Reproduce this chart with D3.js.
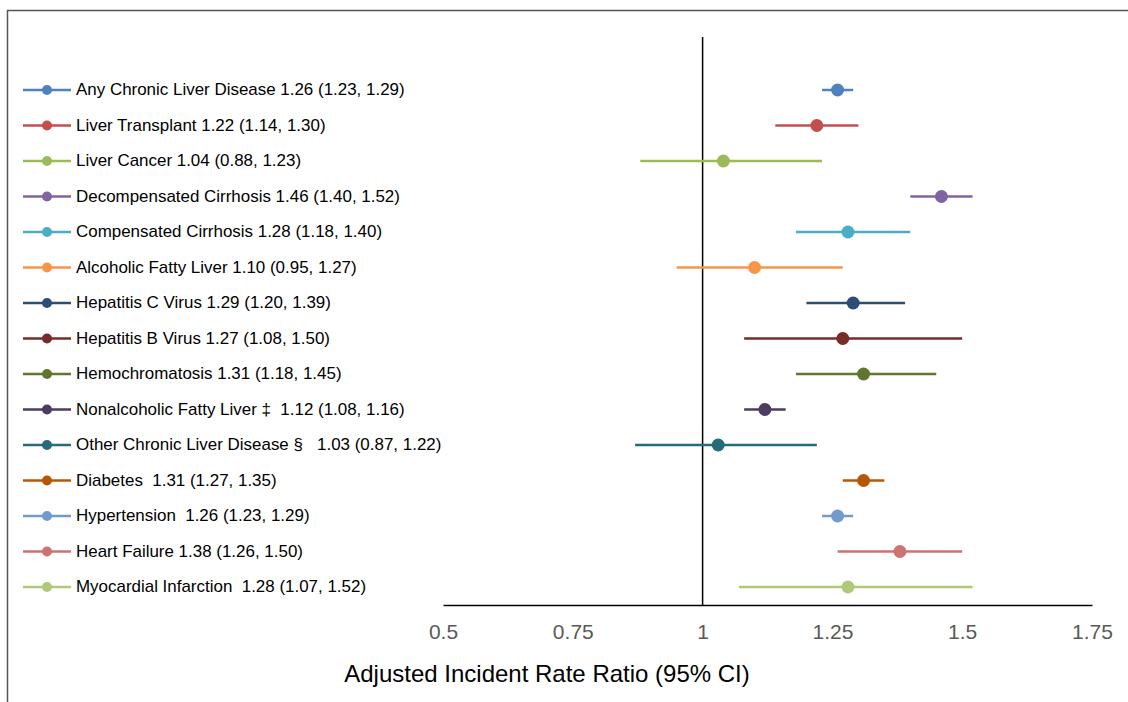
<!DOCTYPE html>
<html>
<head>
<meta charset="utf-8">
<script src="https://cdn.jsdelivr.net/npm/d3@7"></script>
<style>
  body { margin: 0; background: #fff; }
  svg { font-family: "Liberation Sans", Arial, sans-serif; }
</style>
</head>
<body>
<div id="chart"></div>
<script>
// chart data
var labels = [
  "Any Chronic Liver Disease 1.26 (1.23, 1.29)",
  "Liver Transplant 1.22 (1.14, 1.30)",
  "Liver Cancer 1.04 (0.88, 1.23)",
  "Decompensated Cirrhosis 1.46 (1.40, 1.52)",
  "Compensated Cirrhosis 1.28 (1.18, 1.40)",
  "Alcoholic Fatty Liver 1.10 (0.95, 1.27)",
  "Hepatitis C Virus 1.29 (1.20, 1.39)",
  "Hepatitis B Virus 1.27 (1.08, 1.50)",
  "Hemochromatosis 1.31 (1.18, 1.45)",
  "Nonalcoholic Fatty Liver \u2021  1.12 (1.08, 1.16)",
  "Other Chronic Liver Disease \u00a7   1.03 (0.87, 1.22)",
  "Diabetes  1.31 (1.27, 1.35)",
  "Hypertension  1.26 (1.23, 1.29)",
  "Heart Failure 1.38 (1.26, 1.50)",
  "Myocardial Infarction  1.28 (1.07, 1.52)"
];
var estimates = [1.26, 1.22, 1.04, 1.46, 1.28, 1.10, 1.29, 1.27, 1.31, 1.12, 1.03, 1.31, 1.26, 1.38, 1.28];
var lower     = [1.23, 1.14, 0.88, 1.40, 1.18, 0.95, 1.20, 1.08, 1.18, 1.08, 0.87, 1.27, 1.23, 1.26, 1.07];
var upper     = [1.29, 1.30, 1.23, 1.52, 1.40, 1.27, 1.39, 1.50, 1.45, 1.16, 1.22, 1.35, 1.29, 1.50, 1.52];
var colors = ["#4F81BD", "#C0504D", "#9BBB59", "#8064A2", "#4BACC6", "#F79646", "#2C4D75",
              "#772C2A", "#5F7530", "#4D3B62", "#276A7C", "#B65708", "#729ACA", "#CD7371", "#AFC97A"];
var tickValues = [0.5, 0.75, 1, 1.25, 1.5, 1.75];
var tickLabels = ["0.5", "0.75", "1", "1.25", "1.5", "1.75"];

var width = 1128, height = 702;

var svg = d3.select("#chart").append("svg")
    .attr("width", width)
    .attr("height", height);

// outer frame
svg.append("rect")
    .attr("x", 7.5).attr("y", 10.5)
    .attr("width", width).attr("height", height)
    .attr("fill", "none")
    .attr("stroke", "#555")
    .attr("stroke-width", 1.5);

var x = d3.scaleLinear().domain([0.5, 1.75]).range([443, 1092]);
var y = d3.scalePoint().domain(d3.range(labels.length)).range([90, 587]);

var axisY = 605;

// axis
var axis = d3.axisBottom(x)
    .tickValues(tickValues)
    .tickFormat(function(d, i) { return tickLabels[i]; })
    .tickSize(0);

var gx = svg.append("g")
    .attr("transform", "translate(0," + axisY + ")")
    .call(axis);
gx.select(".domain").attr("stroke", "#000").attr("stroke-width", 1.5);
gx.selectAll("text")
    .attr("y", 34)
    .attr("dy", 0)
    .attr("fill", "#595959")
    .style("font-size", "21px")
    .style("font-family", "Liberation Sans, Arial, sans-serif");

// reference line at 1
svg.append("line")
    .attr("x1", x(1)).attr("x2", x(1))
    .attr("y1", 37).attr("y2", axisY)
    .attr("stroke", "#000")
    .attr("stroke-width", 1.5);

// axis title
svg.append("text")
    .attr("x", 547).attr("y", 682)
    .attr("text-anchor", "middle")
    .style("font-size", "24px")
    .attr("fill", "#000")
    .text("Adjusted Incident Rate Ratio (95% CI)");

// CI lines and points
var rows = svg.append("g").selectAll("g")
    .data(labels)
    .enter().append("g");

rows.append("line")
    .attr("x1", function(d, i) { return x(lower[i]); })
    .attr("x2", function(d, i) { return x(upper[i]); })
    .attr("y1", function(d, i) { return y(i); })
    .attr("y2", function(d, i) { return y(i); })
    .attr("stroke", function(d, i) { return colors[i]; })
    .attr("stroke-width", 2.5);

rows.append("circle")
    .attr("cx", function(d, i) { return x(estimates[i]); })
    .attr("cy", function(d, i) { return y(i); })
    .attr("r", 6.5)
    .attr("fill", function(d, i) { return colors[i]; });

// legend
var legend = svg.append("g").selectAll("g")
    .data(labels)
    .enter().append("g")
    .attr("transform", function(d, i) { return "translate(0," + y(i) + ")"; });

legend.append("line")
    .attr("x1", 23).attr("x2", 71)
    .attr("stroke", function(d, i) { return colors[i]; })
    .attr("stroke-width", 2.5);

legend.append("circle")
    .attr("cx", 47).attr("r", 5)
    .attr("fill", function(d, i) { return colors[i]; });

legend.append("text")
    .attr("transform", "translate(76,5) scale(1.06,1)")
    .style("font-size", "16px")
    .style("white-space", "pre")
    .attr("fill", "#000")
    .text(function(d) { return d; });
</script>
</body>
</html>
